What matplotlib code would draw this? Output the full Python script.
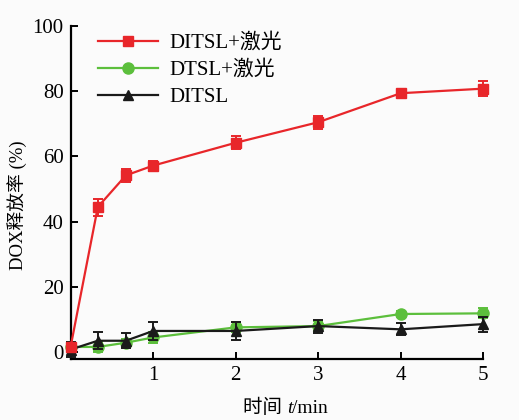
import matplotlib.pyplot as plt
from matplotlib.offsetbox import TextArea, HPacker, AnchoredOffsetbox
import numpy as np

plt.rcParams['font.family'] = ['Liberation Serif', 'Noto Sans CJK SC']

# time points (min)
t = [0, 0.33, 0.67, 1, 2, 3, 4, 5]

# release (%) and error bars
ditsl_laser = [1.6, 44.5, 54.2, 57.2, 64.2, 70.5, 79.4, 80.8]
ditsl_laser_err = [1.0, 2.6, 2.0, 1.5, 2.0, 2.0, 0.8, 2.2]
dtsl_laser = [1.6, 1.6, 2.9, 4.5, 7.6, 8.0, 11.7, 11.9]
dtsl_laser_err = [1.5, 1.5, 1.2, 1.8, 1.5, 1.5, 0.8, 1.5]
ditsl = [0.8, 3.5, 3.5, 6.5, 6.5, 8.0, 7.0, 8.6]
ditsl_err = [2.2, 2.6, 2.3, 2.7, 2.8, 2.0, 1.8, 2.3]

labels = ['DITSL+激光', 'DTSL+激光', 'DITSL']
xticks = [1, 2, 3, 4, 5]
yticks = [0, 20, 40, 60, 80, 100]

fig = plt.figure(figsize=(5.19, 4.2), dpi=100, facecolor='#fbfbfb')
ax = fig.add_axes([0.136, 0.146, 0.795, 0.792])
ax.set_facecolor('#fbfbfb')

kw = dict(lw=1.6, capsize=3.5, capthick=1.4, elinewidth=1.4, clip_on=False)
h2 = ax.errorbar(t, dtsl_laser, yerr=dtsl_laser_err, color='#5cbf3c', marker='o',
                 ms=8, zorder=3, **kw)
h3 = ax.errorbar(t, ditsl, yerr=ditsl_err, color='#1a1a1a', marker='^',
                 ms=6.5, zorder=4, **kw)
h1 = ax.errorbar(t, ditsl_laser, yerr=ditsl_laser_err, color='#e8262a', marker='s',
                 ms=6.5, zorder=5, **kw)
for h in (h1, h2, h3):
    for c in h[1] + h[2]:
        c.set_clip_on(False)

ax.set_xlim(0, 5)
ax.set_ylim(-2, 100)
ax.set_xticks(xticks)
ax.set_yticks(yticks)
ax.spines['top'].set_visible(False)
ax.spines['right'].set_visible(False)
ax.spines['left'].set_linewidth(1.6)
ax.spines['bottom'].set_linewidth(1.6)
ax.tick_params(axis='x', direction='in', length=5, width=1.4, labelsize=15, pad=5)
ax.tick_params(axis='y', direction='in', length=5, width=1.4, labelsize=15, pad=5)

ax.set_ylabel('DOX释放率 (%)', fontsize=13.5)
ax.yaxis.set_label_coords(-0.105, 0.46)

# x label: 时间 t/min with italic t
parts = [TextArea('时间 ', textprops=dict(fontsize=14)),
         TextArea('t', textprops=dict(fontsize=14, style='italic')),
         TextArea('/min', textprops=dict(fontsize=14))]
box = HPacker(children=parts, align='baseline', pad=0, sep=0)
anc = AnchoredOffsetbox(loc='center', child=box, frameon=False,
                        bbox_to_anchor=(0.55, 0.03), bbox_transform=fig.transFigure,
                        borderpad=0)
fig.add_artist(anc)

leg_handles = [h1[0], h2[0], h3[0]]
ax.legend(leg_handles, labels, loc='upper left', bbox_to_anchor=(0.02, 1.035),
          frameon=False, fontsize=15, handlelength=2.9, handletextpad=0.55,
          labelspacing=0.35)

fig.savefig('out.png', dpi=100, facecolor=fig.get_facecolor())
